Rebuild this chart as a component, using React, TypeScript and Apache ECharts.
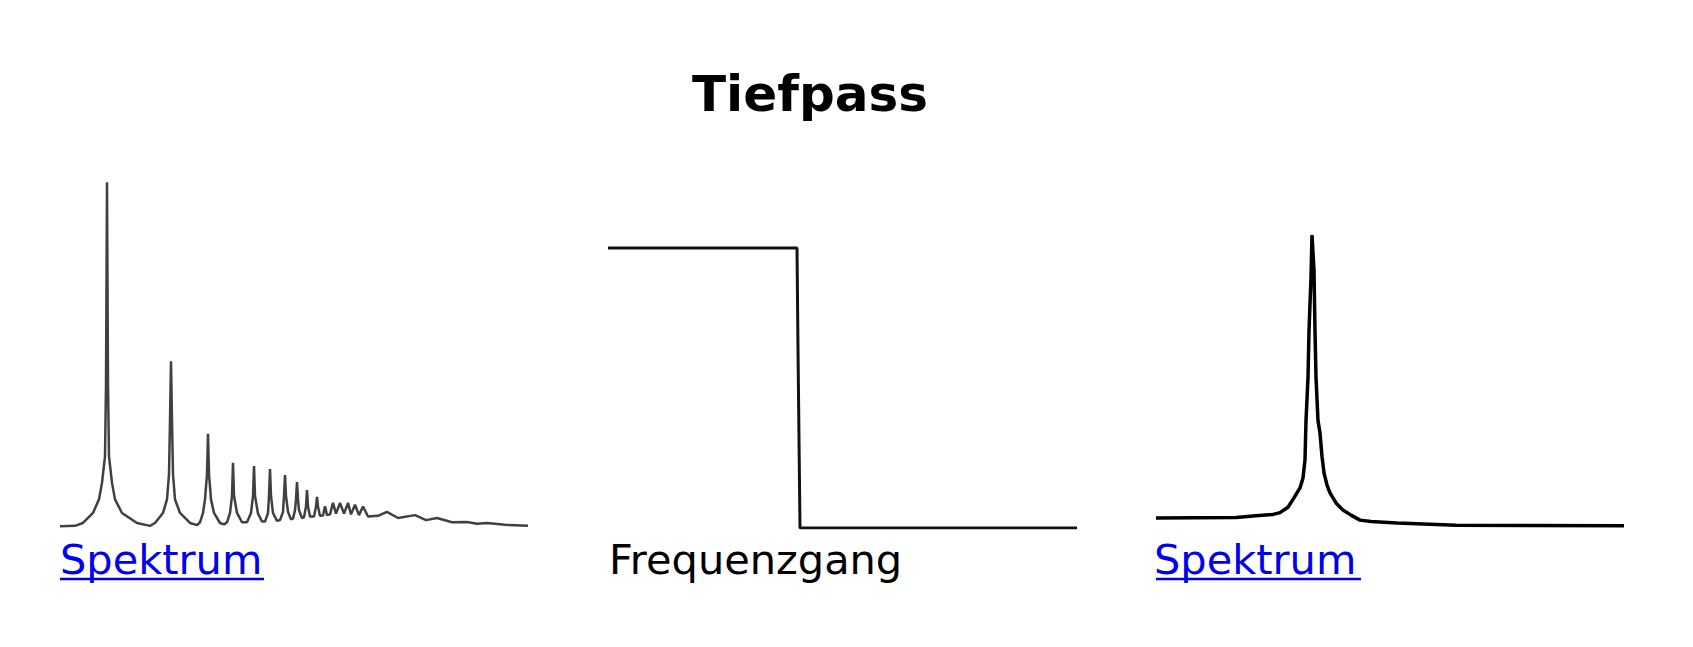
import React, { useEffect, useRef } from "react";
import * as echarts from "echarts";

const titleText = "Tiefpass";
const labelLeft = "Spektrum";
const labelMiddle = "Frequenzgang";
const labelRight = "Spektrum";

// Panel 1: input spectrum (harmonics), [frequency, amplitude]
const spectrumIn: number[][] = [
  [0, 0.5], [15, 0.6], [23, 1.4], [33, 4.2], [39, 8], [42, 12.6], [45, 20], [46, 40], [47, 96.6],
  [48, 40], [49, 20], [52, 12.6], [55, 8], [62, 4.2], [77, 1.4], [90, 0.6],
  [95, 1.4], [103, 4.2], [107, 8], [109, 15], [110, 30], [111, 46.6], [112, 30], [113, 15], [115, 8], [120, 4.2], [130, 1.4], [137, 0.8],
  [140, 1.6], [143, 4.2], [145, 8], [147, 15], [148, 26.3], [149, 15], [151, 8], [154, 4.2], [160, 1.4], [164, 1.0],
  [167, 1.6], [170, 4.2], [172, 9], [173, 18.2], [174, 9], [177, 4.2], [182, 1.6],
  [187, 1.6], [191, 4.2], [193, 9], [194, 17.3], [195, 9], [198, 4], [202, 1.8],
  [205, 1.8], [208, 4.2], [209, 9], [210, 16.5], [211, 9], [213, 4.2], [217, 2.0],
  [220, 2.2], [223, 4.5], [224, 9], [225, 14.8], [226, 9], [228, 4.5], [231, 2.4],
  [233, 2.6], [235, 5], [236, 8], [237, 12.8], [238, 8], [239, 5], [242, 2.8],
  [244, 3], [246, 6], [247, 10.6], [248, 6], [250, 3.2],
  [254, 3.2], [256, 6], [257, 8.7], [258, 6], [260, 3.4],
  [263, 3.5], [265, 6.1], [267, 3.6],
  [270, 3.8], [273, 7], [276, 4], [280, 7], [284, 4], [288, 7], [291, 3.8], [295, 6.5], [299, 3.6], [303, 6], [308, 3.2],
  [318, 3.4], [327, 4.5], [338, 2.8], [355, 3.6], [366, 2.2], [377, 2.8], [392, 1.6], [407, 1.7], [417, 1.2], [427, 1.4], [445, 0.9], [468, 0.6],
];

// Panel 2: frequency response of the low-pass filter
const responseCurve: number[][] = [
  [0, 78.2], [189, 78.2], [190, 50], [192, 0], [469, 0],
];

// Panel 3: output spectrum
const spectrumOut: number[][] = [
  [0, 2.8], [80, 2.9], [100, 3.4], [117, 3.8], [124, 4.3], [132, 5.8], [137, 8], [144, 11.2], [147, 14],
  [149, 19], [150, 30], [152, 42], [153, 55], [155, 70], [156, 81.8], [158, 72], [159, 55], [160, 42],
  [162, 30], [164, 26.5], [166, 20], [168, 15.4], [171, 12], [174, 9.8], [180, 7], [187, 5], [195, 3.6],
  [204, 2.2], [215, 1.8], [241, 1.4], [300, 0.8], [468, 0.6],
];

export default function App() {
  const ref = useRef<HTMLDivElement>(null);
  useEffect(() => {
    if (!ref.current) return;
    const chart = echarts.init(ref.current, undefined, { renderer: "svg" });
    const font = "'DejaVu Sans', Verdana, sans-serif";
    const grids = [
      { left: 52, top: 162, width: 468, height: 358 },
      { left: 600, top: 162, width: 469, height: 358 },
      { left: 1148, top: 162, width: 468, height: 358 },
    ];
    const mkX = (i: number, max: number) => ({
      type: "value", gridIndex: i, min: 0, max, show: false,
    });
    const mkY = (i: number) => ({
      type: "value", gridIndex: i, min: 0, max: 100, show: false,
    });
    chart.setOption({
      animation: false,
      backgroundColor: "#ffffff",
      grid: grids,
      xAxis: [mkX(0, 468), mkX(1, 469), mkX(2, 468)],
      yAxis: [mkY(0), mkY(1), mkY(2)],
      series: [
        {
          type: "line", xAxisIndex: 0, yAxisIndex: 0, data: spectrumIn, symbol: "none",
          lineStyle: { color: "#404040", width: 2.5 },
        },
        {
          type: "line", xAxisIndex: 1, yAxisIndex: 1, data: responseCurve, symbol: "none",
          lineStyle: { color: "#111111", width: 3 },
        },
        {
          type: "line", xAxisIndex: 2, yAxisIndex: 2, data: spectrumOut, symbol: "none",
          lineStyle: { color: "#000000", width: 3.5 },
        },
      ],
      graphic: [
        {
          type: "text", x: 802, y: 86,
          style: { text: titleText, font: `bold 50px ${font}`, fill: "#000", align: "center", verticalAlign: "middle" },
        },
        {
          type: "text", x: 52, y: 551,
          style: { text: labelLeft, font: `41.5px ${font}`, fill: "#0000EE", align: "left", verticalAlign: "middle" },
        },
        {
          type: "line", shape: { x1: 52, y1: 571, x2: 256, y2: 571 },
          style: { stroke: "#0000EE", lineWidth: 2.5 },
        },
        {
          type: "text", x: 601, y: 551,
          style: { text: labelMiddle, font: `41.5px ${font}`, fill: "#000", align: "left", verticalAlign: "middle" },
        },
        {
          type: "text", x: 1146, y: 551,
          style: { text: labelRight, font: `41.5px ${font}`, fill: "#0000EE", align: "left", verticalAlign: "middle" },
        },
        {
          type: "line", shape: { x1: 1148, y1: 571, x2: 1353, y2: 571 },
          style: { stroke: "#0000EE", lineWidth: 2.5 },
        },
      ],
    });
    return () => chart.dispose();
  }, []);
  return <div ref={ref} style={{ width: 1677, height: 631 }} />;
}
